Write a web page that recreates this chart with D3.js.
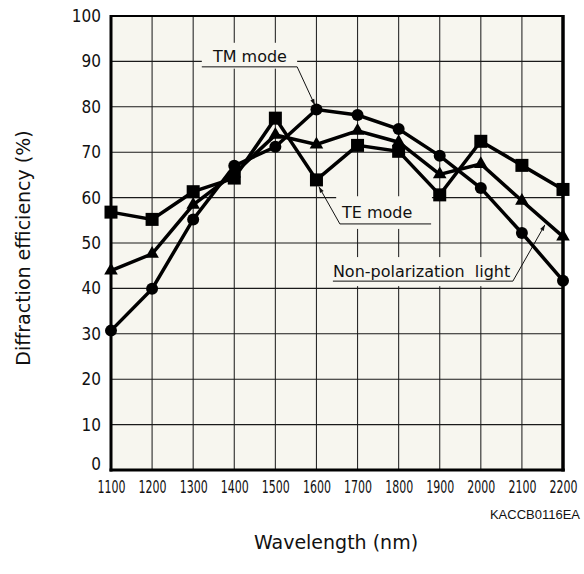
<!DOCTYPE html>
<html>
<head>
<meta charset="utf-8">
<script src="https://cdn.jsdelivr.net/npm/d3@7"></script>
<style>
  html, body { margin: 0; padding: 0; background: #ffffff; }
  svg { display: block; }
</style>
</head>
<body>
<svg id="chart" width="584" height="574"></svg>
<script>
// ---------- data ----------
const wavelengths = [1100, 1200, 1300, 1400, 1500, 1600, 1700, 1800, 1900, 2000, 2100, 2200];
const teMode   = [56.8, 55.2, 61.3, 64.3, 77.5, 63.9, 71.5, 70.2, 60.6, 72.4, 67.1, 61.8];
const tmMode   = [30.7, 39.9, 55.2, 67.0, 71.2, 79.4, 78.2, 75.1, 69.2, 62.1, 52.2, 41.7];
const nonPol   = [43.9, 47.6, 58.4, 65.3, 73.8, 71.7, 74.7, 72.2, 65.1, 67.4, 59.3, 51.4];
const xTicks = [1100, 1200, 1300, 1400, 1500, 1600, 1700, 1800, 1900, 2000, 2100, 2200];
const yTicks = [0, 10, 20, 30, 40, 50, 60, 70, 80, 90, 100];
const annotations = [
  { text: "TM mode", tx: 1348, ty: 89.9, ux0: 1321, ux1: 1553, uy: 88.8, lx: 1553, ly: 88.8, ax: 1596, ay: 80.4, bx0: 1321, bx1: 1553, by0: 94.1, by1: 88.4 },
  { text: "TE mode", tx: 1662, ty: 55.5, ux0: 1657, ux1: 1879, uy: 54.2, lx: 1657, ly: 54.2, ax: 1606, ay: 62.4, bx0: 1648, bx1: 1881, by0: 60.3, by1: 53.1 },
  { text: "Non-polarization\u00a0 light", tx: 1640, ty: 42.5, ux0: 1640, ux1: 2078, uy: 41.6, lx: 2078, ly: 41.6, ax: 2156, ay: 54.0, bx0: 1633, bx1: 2083, by0: 46.9, by1: 40.5 }
];

// ---------- layout ----------
const svg = d3.select("#chart");
const L = 111, R = 563, T = 16, B = 470;
const x = d3.scaleLinear().domain([1100, 2200]).range([L, R]);
const y = d3.scaleLinear().domain([0, 100]).range([B, T]);

// plot background
svg.append("rect").attr("x", L).attr("y", T).attr("width", R - L).attr("height", B - T)
  .attr("fill", "#f7f6ef");

// grid
const grid = svg.append("g");
grid.selectAll("line.v").data(xTicks).join("line")
  .attr("x1", d => x(d)).attr("x2", d => x(d)).attr("y1", T).attr("y2", B)
  .attr("stroke", "#2a2a2a").attr("stroke-width", 1.1);
grid.selectAll("line.h").data(yTicks).join("line")
  .attr("x1", L).attr("x2", R).attr("y1", d => y(d)).attr("y2", d => y(d))
  .attr("stroke", "#1a1a1a").attr("stroke-width", 1.1);

// annotation boxes (cover grid)
const ann = svg.append("g");
ann.selectAll("rect").data(annotations).join("rect")
  .attr("x", d => x(d.bx0)).attr("y", d => y(d.by0))
  .attr("width", d => x(d.bx1) - x(d.bx0)).attr("height", d => y(d.by1) - y(d.by0))
  .attr("fill", "#f7f6ef");

// arrow marker
svg.append("defs").append("marker")
  .attr("id", "arr").attr("viewBox", "0 0 10 10").attr("refX", 10).attr("refY", 5)
  .attr("markerWidth", 8).attr("markerHeight", 6).attr("orient", "auto")
  .attr("markerUnits", "userSpaceOnUse")
  .append("path").attr("d", "M0,1.5 L10,5 L0,8.5 Z").attr("fill", "#111");

ann.selectAll("text").data(annotations).join("text")
  .attr("x", d => x(d.tx)).attr("y", d => y(d.ty))
  .attr("font-family", "DejaVu Sans, Verdana, sans-serif").attr("font-size", 16)
  .attr("fill", "#111").text(d => d.text);
ann.selectAll("line.u").data(annotations).join("line").attr("class", "u")
  .attr("x1", d => x(d.ux0)).attr("x2", d => x(d.ux1))
  .attr("y1", d => y(d.uy)).attr("y2", d => y(d.uy))
  .attr("stroke", "#111").attr("stroke-width", 1);
ann.selectAll("line.l").data(annotations).join("line").attr("class", "l")
  .attr("x1", d => x(d.lx)).attr("y1", d => y(d.ly))
  .attr("x2", d => x(d.ax)).attr("y2", d => y(d.ay))
  .attr("stroke", "#111").attr("stroke-width", 1)
  .attr("marker-end", "url(#arr)");

// series
const series = [
  { values: teMode, shape: "square" },
  { values: nonPol, shape: "triangle" },
  { values: tmMode, shape: "circle" }
];
const line = d3.line().x(d => x(d[0])).y(d => y(d[1]));
series.forEach(s => {
  const pts = wavelengths.map((w, i) => [w, s.values[i]]);
  svg.append("path").datum(pts).attr("d", line)
    .attr("fill", "none").attr("stroke", "#000").attr("stroke-width", 3.5)
    .attr("stroke-linejoin", "miter");
  const g = svg.append("g");
  if (s.shape === "square") {
    g.selectAll("rect").data(pts).join("rect")
      .attr("x", d => x(d[0]) - 6.5).attr("y", d => y(d[1]) - 6.5)
      .attr("width", 13).attr("height", 13).attr("fill", "#000");
  } else if (s.shape === "circle") {
    g.selectAll("circle").data(pts).join("circle")
      .attr("cx", d => x(d[0])).attr("cy", d => y(d[1])).attr("r", 6).attr("fill", "#000");
  } else {
    const tri = d3.symbol().type(d3.symbolTriangle).size(80);
    g.selectAll("path").data(pts).join("path")
      .attr("transform", d => `translate(${x(d[0])},${y(d[1])})`)
      .attr("d", tri).attr("fill", "#000");
  }
});

// frame
svg.append("line").attr("x1", L).attr("x2", R).attr("y1", T).attr("y2", T).attr("stroke", "#000").attr("stroke-width", 2);
svg.append("line").attr("x1", L).attr("x2", L).attr("y1", T - 1).attr("y2", B + 1.5).attr("stroke", "#000").attr("stroke-width", 3);
svg.append("line").attr("x1", R).attr("x2", R).attr("y1", T - 1).attr("y2", B + 1.5).attr("stroke", "#000").attr("stroke-width", 3.5);
svg.append("line").attr("x1", L - 1.5).attr("x2", R + 1.75).attr("y1", B).attr("y2", B).attr("stroke", "#000").attr("stroke-width", 3);

// y tick labels
const yAxis = d3.axisLeft(y).tickValues(yTicks).tickSize(0).tickPadding(9).tickFormat(d3.format("d"));
const gy = svg.append("g").attr("transform", `translate(${L - 1},0)`).call(yAxis);
gy.select(".domain").remove();
gy.selectAll("text").attr("font-family", "DejaVu Sans Condensed, DejaVu Sans, sans-serif")
  .attr("font-size", 17).attr("fill", "#111")
  .attr("dy", d => d === 0 ? "-0.05em" : "0.32em");

// x tick labels
const xAxis = d3.axisBottom(x).tickValues(xTicks).tickSize(0).tickPadding(0).tickFormat(d3.format("d"));
const gx = svg.append("g").attr("transform", `translate(0,${B})`).call(xAxis);
gx.select(".domain").remove();
gx.selectAll("text").attr("font-family", "DejaVu Sans Condensed, DejaVu Sans, sans-serif")
  .attr("font-size", 18).attr("fill", "#111").attr("dy", null).attr("y", 23)
  .attr("textLength", 28).attr("lengthAdjust", "spacingAndGlyphs");

// axis titles
svg.append("text").attr("transform", `translate(30,248) rotate(-90)`)
  .attr("text-anchor", "middle").attr("font-family", "DejaVu Sans, sans-serif")
  .attr("font-size", 19).attr("fill", "#111").text("Diffraction efficiency (%)");
svg.append("text").attr("x", 336).attr("y", 549)
  .attr("text-anchor", "middle").attr("font-family", "DejaVu Sans, sans-serif")
  .attr("font-size", 19).attr("fill", "#111").text("Wavelength (nm)");
svg.append("text").attr("x", 580).attr("y", 519)
  .attr("text-anchor", "end").attr("font-family", "Liberation Sans, Arial, sans-serif")
  .attr("font-size", 13).attr("fill", "#111").text("KACCB0116EA");
</script>
</body>
</html>
